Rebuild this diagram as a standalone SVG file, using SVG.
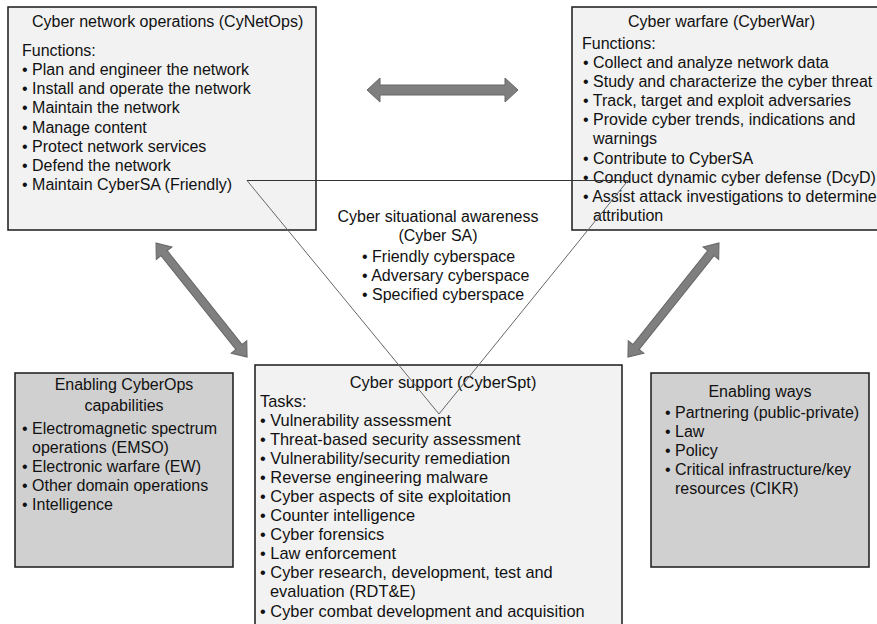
<svg xmlns="http://www.w3.org/2000/svg" width="877" height="624" viewBox="0 0 877 624">
<style>
  text { font-family: "Liberation Sans", Arial, sans-serif; font-size: 16px; fill: #111; }
  .c { text-anchor: middle; }
  .big text { font-size: 16.4px; }
  .light { fill: #f2f2f2; stroke: #1a1a1a; stroke-width: 1.5; }
  .dark { fill: #d0d0d0; stroke: #1a1a1a; stroke-width: 1.5; }
  .arrow { fill: #7f7f7f; stroke: #666; stroke-width: 1; }
  .tri-h { stroke: #333; stroke-width: 1; fill: none; }
  .tri-s { stroke: #666; stroke-width: 1; fill: none; }
</style>
<defs>
  <polygon id="dbl" points="0,0 13,-10 13,-4 133,-4 133,-10 146,0 133,10 133,4 13,4 13,10"/>
</defs>
<rect width="877" height="624" fill="#fff"/>

<g id="cynetops">
  <rect class="light" x="8" y="7" width="308" height="223"/>
  <text x="32" y="27">Cyber network operations (CyNetOps)</text>
  <text x="22" y="55.5">Functions:</text>
  <text x="22" y="75">• Plan and engineer the network</text>
  <text x="22" y="94.2">• Install and operate the network</text>
  <text x="22" y="113.4">• Maintain the network</text>
  <text x="22" y="132.6">• Manage content</text>
  <text x="22" y="151.8">• Protect network services</text>
  <text x="22" y="171">• Defend the network</text>
  <text x="22" y="190.2">• Maintain CyberSA (Friendly)</text>
</g>

<g id="cyberwar">
  <rect class="light" x="572" y="7" width="320" height="223"/>
  <text x="628" y="27">Cyber warfare (CyberWar)</text>
  <text x="582" y="49">Functions:</text>
  <text x="583" y="68">• Collect and analyze network data</text>
  <text x="583" y="87">• Study and characterize the cyber threat</text>
  <text x="583" y="106">• Track, target and exploit adversaries</text>
  <text x="583" y="125">• Provide cyber trends, indications and</text>
  <text x="593" y="144">warnings</text>
  <text x="583" y="164">• Contribute to CyberSA</text>
  <text x="583" y="183">• Conduct dynamic cyber defense (DcyD)</text>
  <text x="583" y="202">• Assist attack investigations to determine</text>
  <text x="593" y="221">attribution</text>
</g>

<g id="cybersa">
  <text class="c" x="438" y="222">Cyber situational awareness</text>
  <text class="c" x="438" y="241">(Cyber SA)</text>
  <text x="362" y="262">• Friendly cyberspace</text>
  <text x="362" y="281">• Adversary cyberspace</text>
  <text x="362" y="300">• Specified cyberspace</text>
</g>

<g id="enabling-cyberops">
  <rect class="dark" x="15" y="373" width="218" height="194"/>
  <text class="c" x="124" y="390">Enabling CyberOps</text>
  <text class="c" x="124" y="411">capabilities</text>
  <text x="22" y="434">• Electromagnetic spectrum</text>
  <text x="32" y="453">operations (EMSO)</text>
  <text x="22" y="472">• Electronic warfare (EW)</text>
  <text x="22" y="491">• Other domain operations</text>
  <text x="22" y="510">• Intelligence</text>
</g>

<g id="cyberspt" class="big">
  <rect class="light" x="255" y="365" width="367" height="280"/>
  <text class="c" x="443" y="388">Cyber support (CyberSpt)</text>
  <text x="260" y="407">Tasks:</text>
  <text x="260" y="426">• Vulnerability assessment</text>
  <text x="260" y="445">• Threat-based security assessment</text>
  <text x="260" y="464">• Vulnerability/security remediation</text>
  <text x="260" y="483">• Reverse engineering malware</text>
  <text x="260" y="502">• Cyber aspects of site exploitation</text>
  <text x="260" y="521">• Counter intelligence</text>
  <text x="260" y="540">• Cyber forensics</text>
  <text x="260" y="559">• Law enforcement</text>
  <text x="260" y="578">• Cyber research, development, test and</text>
  <text x="270" y="597">evaluation (RDT&amp;E)</text>
  <text x="260" y="617">• Cyber combat development and acquisition</text>
</g>

<g id="enabling-ways">
  <rect class="dark" x="651" y="373" width="218" height="194"/>
  <text class="c" x="760" y="397">Enabling ways</text>
  <text x="665" y="418">• Partnering (public-private)</text>
  <text x="665" y="437">• Law</text>
  <text x="665" y="456">• Policy</text>
  <text x="665" y="475">• Critical infrastructure/key</text>
  <text x="675" y="494">resources (CIKR)</text>
</g>

<g id="connectors">
  <line class="tri-h" x1="247" y1="180.5" x2="628" y2="180.5"/>
  <line class="tri-s" x1="247" y1="180.5" x2="439" y2="414"/>
  <line class="tri-s" x1="628" y1="180.5" x2="439" y2="414"/>
  <polygon class="arrow" points="367,90 380,78 380,85 505,85 505,78 518,90 505,102 505,95 380,95 380,102"/>
  <use href="#dbl" class="arrow" transform="translate(156,243) rotate(51.4)"/>
  <use href="#dbl" class="arrow" transform="translate(719,243) rotate(128.6)"/>
</g>
</svg>
